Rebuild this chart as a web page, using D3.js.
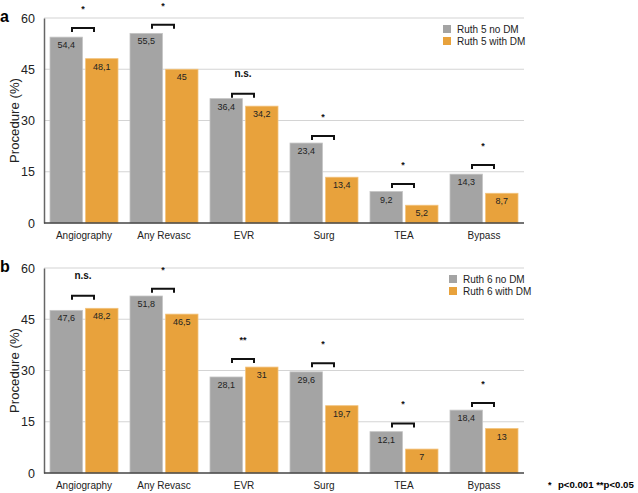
<!DOCTYPE html>
<html>
<head>
<meta charset="utf-8">
<script src="https://cdn.jsdelivr.net/npm/d3@7"></script>
<style>
  body { margin: 0; background: #fff; }
  svg { display: block; font-family: "Liberation Sans", Arial, sans-serif; }
</style>
</head>
<body>
<svg id="canvas" width="638" height="493"></svg>
<script>
// data
const categories = ['Angiography', 'Any Revasc', 'EVR', 'Surg', 'TEA', 'Bypass'];
const yTicks = [0, 15, 30, 45, 60];

const ruth5NoDM = [54.4, 55.5, 36.4, 23.4, 9.2, 14.3];
const ruth5DM = [48.1, 45, 34.2, 13.4, 5.2, 8.7];
const ruth5Sig = ['*', '*', 'n.s.', '*', '*', '*'];
const ruth5Bracket = [57.1, 58.0, 37.8, 25.5, 11.4, 17.0];

const ruth6NoDM = [47.6, 51.8, 28.1, 29.6, 12.1, 18.4];
const ruth6DM = [48.2, 46.5, 31, 19.7, 7, 13];
const ruth6Sig = ['n.s.', '*', '**', '*', '*', '*'];
const ruth6Bracket = [51.9, 53.9, 33.4, 32.1, 14.5, 20.5];

const grayColor = '#a4a4a4';
const orangeColor = '#e8a23c';

const svg = d3.select('#canvas');

const panels = [
    { label: 'a', top: 18, legend: ['Ruth 5 no DM', 'Ruth 5 with DM'], legendX: 443,
      noDM: ruth5NoDM, dm: ruth5DM, sig: ruth5Sig, bracket: ruth5Bracket },
    { label: 'b', top: 268, legend: ['Ruth 6 no DM', 'Ruth 6 with DM'], legendX: 449,
      noDM: ruth6NoDM, dm: ruth6DM, sig: ruth6Sig, bracket: ruth6Bracket }
];

const plotLeft = 44, plotRight = 524, plotHeight = 205;

const x0 = d3.scaleBand()
    .domain(categories)
    .range([plotLeft, plotRight])
    .paddingInner(0.15)
    .paddingOuter(0.075);

const x1 = d3.scaleBand()
    .domain([0, 1])
    .range([0, x0.bandwidth()])
    .paddingInner(0.09);

panels.forEach(drawPanel);

function drawPanel(p) {
    const y = d3.scaleLinear().domain([0, 60]).range([p.top + plotHeight, p.top]);
    const g = svg.append('g');

    // gridlines
    g.selectAll('.grid')
        .data(yTicks.filter(t => t > 0))
        .join('line')
        .attr('x1', plotLeft).attr('x2', plotRight)
        .attr('y1', d => y(d)).attr('y2', d => y(d))
        .attr('stroke', '#d4d4d4').attr('stroke-width', 1.2);

    // y axis
    const yAxis = g.append('g')
        .attr('transform', `translate(${plotLeft},0)`)
        .call(d3.axisLeft(y).tickValues(yTicks).tickSize(0).tickPadding(9));
    yAxis.select('.domain').attr('stroke', '#666').attr('stroke-width', 1.5);
    yAxis.selectAll('text').attr('font-size', 12.5).attr('fill', '#222');

    g.append('text')
        .attr('transform', `translate(19,${p.top + plotHeight / 2}) rotate(-90)`)
        .attr('text-anchor', 'middle')
        .attr('font-size', 13.2)
        .attr('fill', '#222')
        .text('Procedure (%)');

    // panel letter
    g.append('text')
        .attr('x', 0).attr('y', p.top + 4)
        .attr('font-size', 16).attr('font-weight', 'bold')
        .text(p.label);

    // bars
    const rows = categories.map((c, i) => ({ cat: c, vals: [p.noDM[i], p.dm[i]], sig: p.sig[i], br: p.bracket[i] }));
    const groups = g.selectAll('.grp')
        .data(rows)
        .join('g')
        .attr('transform', d => `translate(${x0(d.cat)},0)`);

    groups.selectAll('rect')
        .data(d => d.vals.map((v, k) => ({ v, k })))
        .join('rect')
        .attr('x', d => x1(d.k))
        .attr('y', d => y(d.v))
        .attr('width', x1.bandwidth())
        .attr('height', d => y(0) - y(d.v))
        .attr('fill', d => d.k === 0 ? grayColor : orangeColor)
        .attr('stroke', d => d.k === 0 ? '#c4c4c4' : '#f2c27c')
        .attr('stroke-width', 0.8);

    groups.selectAll('.val')
        .data(d => d.vals.map((v, k) => ({ v, k })))
        .join('text')
        .attr('x', d => x1(d.k) + x1.bandwidth() / 2)
        .attr('y', d => y(d.v) + 11)
        .attr('text-anchor', 'middle')
        .attr('font-size', 9)
        .attr('fill', '#222')
        .text(d => String(d.v).replace('.', ','));

    // brackets
    const bw = 11;
    groups.append('path')
        .attr('d', d => {
            const cx = x0.bandwidth() / 2 - 1, by = y(d.br);
            return `M${cx - bw},${by + 4}V${by}H${cx + bw}V${by + 4}`;
        })
        .attr('fill', 'none')
        .attr('stroke', '#111')
        .attr('stroke-width', 2);

    groups.append('text')
        .attr('x', x0.bandwidth() / 2 - 1)
        .attr('y', d => d.sig === 'n.s.' ? y(d.br) - 17 : y(d.br) - 16)
        .attr('text-anchor', 'middle')
        .attr('font-size', d => d.sig === 'n.s.' ? 10 : 9)
        .attr('font-weight', 'bold')
        .attr('fill', '#111')
        .text(d => d.sig);

    // baseline
    g.append('line')
        .attr('x1', plotLeft).attr('x2', plotRight)
        .attr('y1', y(0)).attr('y2', y(0))
        .attr('stroke', '#444').attr('stroke-width', 1.5);

    // category labels
    g.selectAll('.cat')
        .data(categories)
        .join('text')
        .attr('x', d => x0(d) + x0.bandwidth() / 2)
        .attr('y', y(0) + 16)
        .attr('text-anchor', 'middle')
        .attr('font-size', 10)
        .attr('fill', '#222')
        .text(d => d);

    // legend
    const lg = g.append('g').attr('transform', `translate(${p.legendX},${p.top + 7})`);
    p.legend.forEach((name, i) => {
        lg.append('rect')
            .attr('x', 0).attr('y', i * 12)
            .attr('width', 8).attr('height', 8)
            .attr('fill', i === 0 ? grayColor : orangeColor);
        lg.append('text')
            .attr('x', 14).attr('y', i * 12 + 8)
            .attr('font-size', 10)
            .attr('fill', '#222')
            .text(name);
    });
}

// footnote
svg.append('text')
    .attr('x', 548).attr('y', 488)
    .attr('font-size', 9).attr('font-weight', 'bold')
    .text('*');
svg.append('text')
    .attr('x', 558).attr('y', 488)
    .attr('font-size', 9.6).attr('font-weight', 'bold')
    .text('p<0.001 **p<0.05');
</script>
</body>
</html>
